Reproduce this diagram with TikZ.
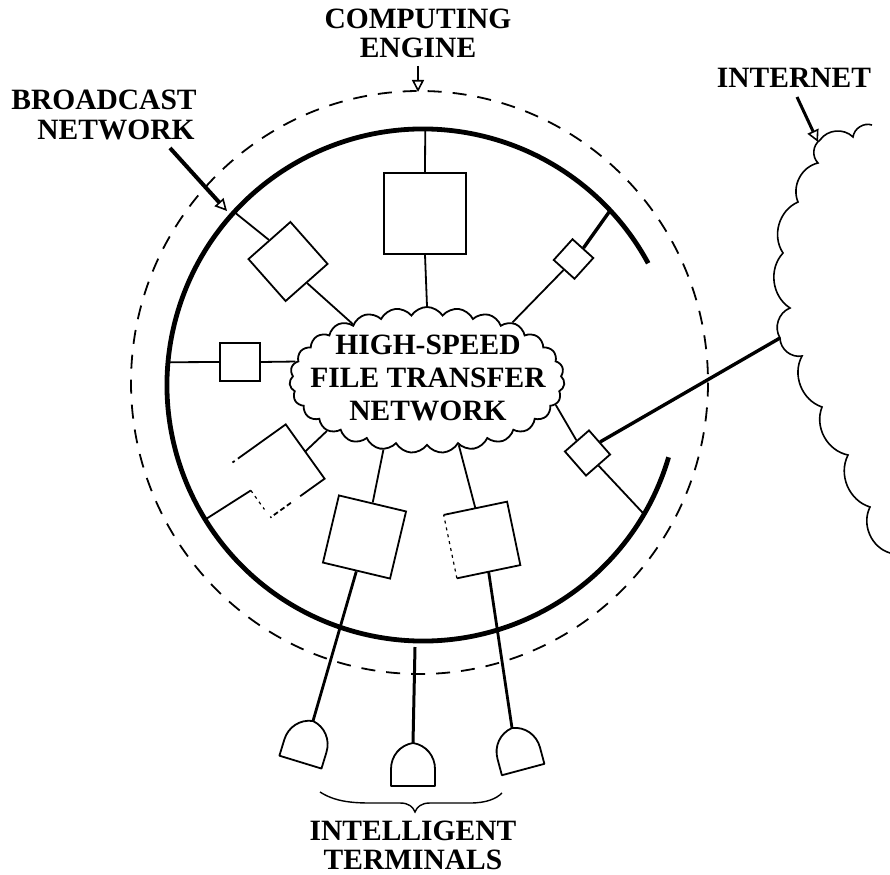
\documentclass[tikz,border=0pt]{standalone}
\usepackage{fontspec}
\setmainfont{Liberation Serif}
\usetikzlibrary{shapes.symbols, arrows.meta, calc}
\begin{document}
\begin{tikzpicture}[x=1pt, y=-1pt,
  lbl/.style={font=\bfseries\fontsize{29.5}{29}\selectfont, align=center, inner sep=0pt},
  sqbox/.style={draw, line width=1.8pt, inner sep=0pt, minimum width=#1, minimum height=#1},
  conn/.style={line width=1.8pt},
  connb/.style={line width=3.4pt},
  ring/.style={line width=4.8pt},
  dring/.style={line width=1.8pt, dash pattern=on 14pt off 11pt},
  faint/.style={line width=1.2pt, dash pattern=on 3pt off 4pt},
  arr/.style={-{Triangle[open, length=12pt, width=12pt, line width=1.6pt]}},
  term/.pic={\draw[line width=1.8pt, line join=round] (0,0) .. controls (13,2) and (22,13) .. (22,26) -- (22,43) -- (-22,43) -- (-22,26) .. controls (-22,13) and (-13,2) .. (0,0) -- cycle;}
]
\useasboundingbox (0,0) rectangle (890,874);
\fill[white] (0,0) rectangle (890,874);

% rings
\coordinate (O) at (423,385);
\draw[dring] (419.5,382.5) ellipse [x radius=288.5, y radius=291.5];
\draw[ring] (O) ++(16.4:256) arc[start angle=16.4, end angle=331.6, radius=256];

% points on the broadcast ring
\coordinate (c1) at ($(O)+(270.5:256)$);
\coordinate (c2) at ($(O)+(222.5:256)$);
\coordinate (c3) at ($(O)+(317:256)$);
\coordinate (c4) at ($(O)+(185.1:256)$);
\coordinate (c5) at ($(O)+(148.3:256)$);
\coordinate (c8) at ($(O)+(30.3:256)$);
\coordinate (c9) at (415,647);

% central cloud
\node[cloud, draw, line width=1.8pt, cloud puffs=27, cloud puff arc=115, cloud ignores aspect,
      minimum width=275pt, minimum height=146pt, inner sep=0pt] (net) at (427,380) {};
\node[lbl, font=\bfseries\fontsize{29.5}{33}\selectfont] (nettext) at (428,378) {HIGH-SPEED\\FILE TRANSFER\\NETWORK};

% boxes
\node[draw, line width=1.8pt, inner sep=0pt, minimum width=82pt, minimum height=81pt] (b1) at (425,213.5) {};
\node[sqbox=56pt, rotate=41.5] (b2) at (288,261.5) {};
\node[sqbox=28pt, rotate=47.9] (b3) at (573.5,259) {};
\node[draw, line width=1.8pt, inner sep=0pt, minimum width=40pt, minimum height=38pt] (b4) at (240,362) {};
\node[sqbox=65pt, draw=none, rotate=35.6] (b5) at (278,471) {};
\node[sqbox=69pt, rotate=-13.4] (b6) at (364.5,537) {};
\node[sqbox=63pt, draw=none, rotate=11.8] (b7) at (482,540) {};
\node[sqbox=32pt, rotate=41.2] (b8) at (587.5,453) {};

% faint squares
\draw[conn] ($(b5.north west)!0.12!(b5.north east)$) -- (b5.north east) -- (b5.south east) -- ($(b5.south east)!0.45!(b5.south west)$);
\draw[conn] ($(b5.north west)!0.02!(b5.north east)$) -- ($(b5.north west)!0.06!(b5.north east)$);
\draw[conn, dash pattern=on 5pt off 3pt] ($(b5.south east)!0.62!(b5.south west)$) -- (b5.south west);
\draw[faint] (b5.west) -- ($(b5.west)!0.7!(b5.south west)$);
\draw[conn] (b7.north west) -- (b7.north east) -- (b7.south east) -- (b7.south west);
\draw[faint] (b7.south west) -- (b7.north west);

% terminals
\coordinate (t1) at (313,721);
\coordinate (t2) at (413,743);
\coordinate (t3) at (512,728);
\pic[rotate=-17] at (t1) {term};
\pic at (t2) {term};
\pic[rotate=15] at (t3) {term};

% connectors
\draw[conn] (c1) -- (b1.north);
\draw[conn] (b1.south) -- (net.90);
\draw[conn] (c2) -- (b2.north);
\draw[conn] (b2.south) -- (net.143);
\draw[connb] (c3) -- (b3.east);
\draw[conn] (b3.west) -- (net.34);
\draw[conn] (c4) -- (b4.west);
\draw[conn] (b4.east) -- (net.172);
\draw[conn] (c5) -- (b5.west);
\draw[conn] (b5.east) -- (net.207);
\draw[conn] (b6.north) -- (net.238);
\draw[connb, line width=2.8pt] (b6.south) -- (t1);
\draw[conn] (b7.north) -- (net.296);
\draw[connb, line width=2.8pt] (b7.south) -- (t3);
\draw[connb, line width=3pt] (c9) -- (t2);
\draw[conn] (net.349) -- (b8.north);
\draw[conn] (b8.south) -- (c8);

% internet cloud
\coordinate (ic) at (780,338);
\draw[line width=1.6pt] (872,125) to[bend right=50] (853,137) to[bend right=50] (820,140)
  to[bend right=50] (818,163) to[bend right=50] (798,202) to[bend right=50] (783,253)
  to[bend right=50] (790,308) to[bend right=50] (ic) to[bend right=50] (802,356)
  to[bend right=50] (822,407) to[bend right=50] (848,455) to[bend right=50] (870,507)
  to[bend right=50] (890,553);
\draw[connb] (b8.east) -- (ic);

% labels
\node[lbl, font=\bfseries\fontsize{29.5}{30}\selectfont] (bc) at (104,115) {BROADCAST\\\hspace*{24pt}NETWORK};
\node[lbl, font=\bfseries\fontsize{29.5}{28.5}\selectfont] (ce) at (418,33.5) {COMPUTING\\ENGINE};
\node[lbl] (inet) at (794,78) {INTERNET};
\node[lbl] (it) at (413,845) {INTELLIGENT\\TERMINALS};

% label arrows
\coordinate (bcA) at (170,148);
\coordinate (bcB) at (227,211);
\draw[line width=4pt, arr] (bcA) -- (bcB);
\coordinate (ceA) at (418,66);
\coordinate (ceB) at (418,92);
\draw[line width=1.8pt, arr] (ceA) -- (ceB);
\coordinate (inA) at (797,97);
\coordinate (inB) at (818,142);
\draw[line width=3pt, arr] (inA) -- (inB);

% brace
\draw[line width=1.4pt] (320,792) .. controls (334,801) and (350,803) .. (370,803) -- (400,803)
  .. controls (409,803) and (413,807) .. (415,812) .. controls (417,807) and (421,803) .. (430,803)
  -- (470,803) .. controls (486,803) and (496,799) .. (502,793);
\end{tikzpicture}
\end{document}
